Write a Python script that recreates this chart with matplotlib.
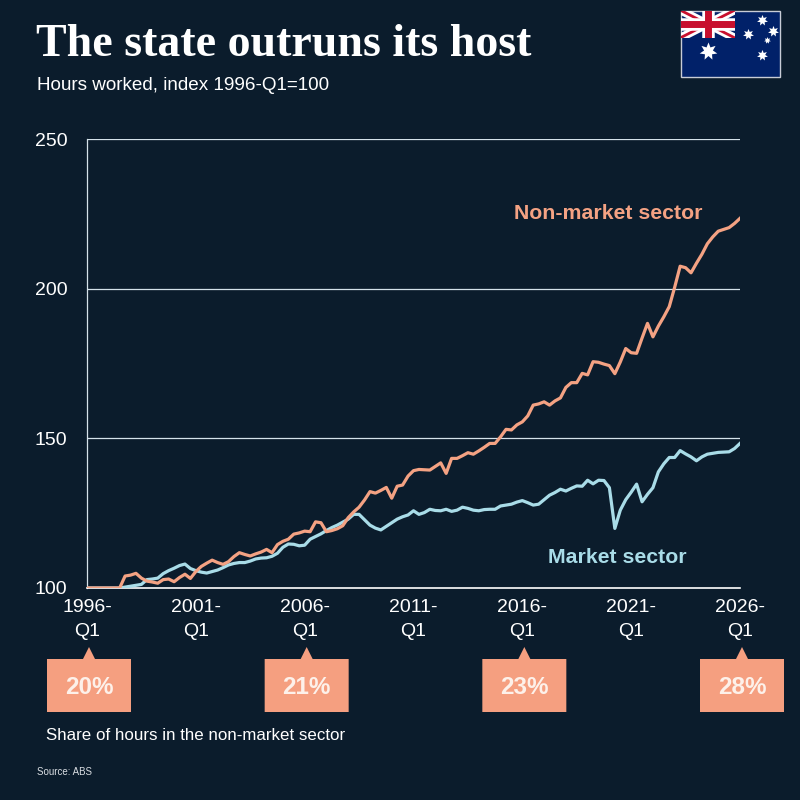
import numpy as np
import matplotlib
matplotlib.use("Agg")
import matplotlib.pyplot as plt
from matplotlib.patches import Polygon, Rectangle

# ─────────────────────────────────────────────────────────────
# 数据：工时指数，1996-Q1 = 100（季度，1996-Q1 … 2026-Q1）
# ─────────────────────────────────────────────────────────────
non_market = [
    100.0, 100.0, 100.0, 100.0, 100.0, 100.0, 100.0, 104.0,
    104.3, 104.9, 103.3, 102.3, 102.0, 101.6, 102.8, 103.0,
    102.1, 103.5, 104.6, 103.2, 105.5, 107.2, 108.3, 109.3,
    108.5, 107.9, 108.8, 110.5, 111.8, 111.2, 110.7, 111.4,
    112.0, 112.9, 111.8, 114.5, 115.6, 116.3, 118.0, 118.4,
    119.0, 118.8, 122.1, 121.8, 118.8, 119.2, 119.8, 120.8,
    123.5, 125.4, 127.0, 129.4, 132.2, 131.7, 132.6, 133.6,
    130.0, 134.0, 134.4, 137.4, 139.2, 139.6, 139.5, 139.4,
    140.6, 141.8, 138.3, 143.3, 143.3, 144.2, 145.2, 144.7,
    145.8, 147.0, 148.3, 148.3, 150.5, 153.0, 152.8, 154.5,
    155.5, 157.5, 161.1, 161.5, 162.2, 161.1, 162.5, 163.5,
    167.0, 168.6, 168.6, 171.7, 171.2, 175.6, 175.4, 174.8,
    174.3, 171.6, 175.5, 180.0, 178.6, 178.4, 183.5, 188.4,
    183.9, 187.5, 190.6, 194.0, 200.5, 207.5, 207.0, 205.3,
    208.5, 211.5, 215.0, 217.3, 219.2, 219.8, 220.4, 221.8,
    223.5,
]
market = [
    100.0, 100.0, 100.0, 100.0, 100.0, 100.0, 100.0, 100.3,
    100.6, 100.9, 101.2, 102.8, 103.0, 103.3, 104.8, 105.8,
    106.6, 107.5, 108.0, 106.5, 105.8, 105.3, 105.0, 105.5,
    106.0, 106.8, 107.7, 108.2, 108.5, 108.5, 109.0, 109.7,
    110.0, 110.1, 110.6, 111.6, 113.6, 114.7, 114.6, 114.1,
    114.3, 116.3, 117.2, 118.1, 119.2, 120.2, 121.0, 122.0,
    123.0, 124.6, 124.6, 122.8, 121.0, 120.0, 119.4, 120.6,
    121.8, 123.0, 123.8, 124.4, 125.8, 124.6, 125.2, 126.3,
    125.9, 125.8, 126.3, 125.6, 126.0, 127.0, 126.6, 126.0,
    125.8, 126.2, 126.3, 126.3, 127.4, 127.7, 128.0, 128.7,
    129.2, 128.5, 127.7, 128.0, 129.5, 131.0, 131.9, 133.0,
    132.4, 133.3, 134.1, 134.0, 136.0, 134.8, 136.0, 135.9,
    133.5, 119.9, 126.0, 129.5, 132.0, 134.7, 128.8, 131.3,
    133.5, 138.8, 141.5, 143.6, 143.6, 145.9, 144.8, 143.8,
    142.5, 143.8, 144.7, 145.0, 145.3, 145.4, 145.5, 146.6,
    148.3,
]
quarters = np.arange(len(non_market))

tick_years = [1996, 2001, 2006, 2011, 2016, 2021, 2026]
tick_labels = [f"{y}-\nQ1" for y in tick_years]
y_ticks = [100, 150, 200, 250]

# 非市场部门工时占比
share_years = [1996, 2006, 2016, 2026]
share_values = [20, 21, 23, 28]

# ─────────────────────────────────────────────────────────────
# 样式
# ─────────────────────────────────────────────────────────────
BG = "#0b1c2c"
ORANGE = "#f4a283"
BLUE = "#a9dce8"
BOX = "#f59f80"
GRID = "#d5e2ea"
plt.rcParams["font.family"] = ["Liberation Sans", "DejaVu Sans"]

W, H = 800, 800
fig = plt.figure(figsize=(8, 8), dpi=100, facecolor=BG)

def fx(px):
    return px / W

def fy(py):
    return 1 - py / H

ax_l, ax_r, ax_t, ax_b = 87, 740, 139, 588
ax = fig.add_axes([fx(ax_l), fy(ax_b), fx(ax_r - ax_l), (ax_b - ax_t) / H])
ax.set_facecolor(BG)

ax.plot(quarters, market, color=BLUE, lw=2.3, solid_joinstyle="round", zorder=3)
ax.plot(quarters, non_market, color=ORANGE, lw=2.3, solid_joinstyle="round", zorder=4)

ax.set_xlim(0, len(non_market) - 1)
ax.set_ylim(100, 250)
ax.set_yticks(y_ticks)
ax.set_yticklabels([str(v) for v in y_ticks])
ax.set_xticks([(y - 1996) * 4 for y in tick_years])
ax.set_xticklabels(tick_labels, linespacing=1.5)
ax.tick_params(axis="both", length=0, colors="white", labelsize=14)
ax.tick_params(axis="x", pad=8)
ax.tick_params(axis="y", pad=14)
for v in y_ticks[1:]:
    ax.axhline(v, color=GRID, lw=0.9, zorder=1)
for s in ["top", "right"]:
    ax.spines[s].set_visible(False)
ax.spines["left"].set_color(GRID)
ax.spines["left"].set_linewidth(0.9)
ax.spines["bottom"].set_color("white")
ax.spines["bottom"].set_linewidth(1.2)

ax.text(95.8, 225, "Non-market sector", color=ORANGE, fontsize=15.3,
        fontweight="bold", ha="center", va="center")
ax.text(97.4, 110.3, "Market sector", color=BLUE, fontsize=15.3,
        fontweight="bold", ha="center", va="center")

# 标题
fig.text(fx(36), fy(45), "The state outruns its host", color="white",
         family=["Liberation Serif", "DejaVu Serif"], fontweight="bold",
         fontsize=33, va="center", ha="left")
fig.text(fx(37), fy(85), "Hours worked, index 1996-Q1=100", color="white",
         fontsize=13.6, va="center", ha="left")

# 占比标注框
fig.canvas.draw()
for yr, val in zip(share_years, share_values):
    cx = ax.transData.transform(((yr - 1996) * 4, 100))[0] + 2
    pts = [(cx - 42, 659), (cx - 6, 659), (cx, 647), (cx + 6, 659),
           (cx + 42, 659), (cx + 42, 712), (cx - 42, 712)]
    fig.patches.append(Polygon([(fx(x), fy(y)) for x, y in pts], closed=True,
                               transform=fig.transFigure, facecolor=BOX,
                               edgecolor="none"))
    fig.text(fx(cx), fy(687), f"{val}%", color="#fdf1ea", fontsize=17.5,
             fontweight="bold", ha="center", va="center")

fig.text(fx(46), fy(735), "Share of hours in the non-market sector",
         color="white", fontsize=12.2, va="center", ha="left")
fig.text(fx(37), fy(772), "Source: ABS", color="#d9dde2", fontsize=7,
         va="center", ha="left")

# 澳大利亚国旗
fa = fig.add_axes([fx(680), fy(77), fx(100), 67 / H])
fa.set_xlim(0, 100)
fa.set_ylim(0, 67)
fa.set_axis_off()
fa.add_patch(Rectangle((0.5, 0.5), 99, 66, facecolor="#012169",
                       edgecolor="#c8ccd6", lw=1, clip_on=False))
canton = Rectangle((0.5, 39), 54.5, 27.5, transform=fa.transData)
for (x0, y0, x1, y1), c, w in [
    ((0, 39, 55, 67), "white", 6), ((0, 67, 55, 39), "white", 6),
    ((0, 39, 55, 67), "#c8102e", 2), ((0, 67, 55, 39), "#c8102e", 2),
    ((27.5, 39, 27.5, 67), "white", 9), ((0, 53, 55, 53), "white", 9),
    ((27.5, 39, 27.5, 67), "#c8102e", 5), ((0, 53, 55, 53), "#c8102e", 5),
]:
    ln, = fa.plot([x0, x1], [y0, y1], color=c, lw=w, solid_capstyle="butt")
    ln.set_clip_path(canton)
fa.plot([27.7], [26.3], marker=(7, 1, 0), color="white", ms=13, mew=0)
for sx, sy, ms in [(81.7, 57, 8), (68.3, 43, 8), (93.3, 46.3, 8),
                   (86.7, 37, 5), (81.7, 22, 8)]:
    fa.plot([sx], [sy], marker=(7, 1, 0), color="white", ms=ms, mew=0)

fig.savefig("out.png", dpi=100, facecolor=BG)
